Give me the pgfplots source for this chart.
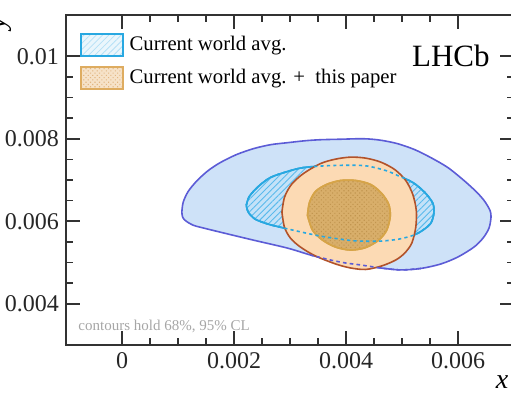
\documentclass[border=0pt]{standalone}
\usepackage{pgfplots}
\pgfplotsset{compat=1.18}
\usepackage{fontspec}
\setmainfont{Liberation Serif}
\usetikzlibrary{patterns,patterns.meta}
\definecolor{outerBlueFill}{RGB}{206,226,248}
\definecolor{outerBlueLine}{RGB}{92,92,214}
\definecolor{cyanLine}{RGB}{40,168,225}
\definecolor{cyanHatch}{RGB}{90,186,236}
\definecolor{cyanFill}{RGB}{196,226,248}
\definecolor{orangeFill}{RGB}{252,218,180}
\definecolor{orangeLine}{RGB}{178,82,42}
\definecolor{innerFill}{RGB}{216,174,106}
\definecolor{innerDots}{RGB}{194,150,80}
\definecolor{innerLine}{RGB}{214,164,72}
\definecolor{legCyanFill}{RGB}{234,246,252}
\definecolor{legOrFill}{RGB}{246,226,200}
\definecolor{legOrLine}{RGB}{222,172,96}
\definecolor{legOrDots}{RGB}{226,182,130}
\definecolor{frame}{RGB}{50,50,50}
\begin{document}
\begin{tikzpicture}
\begin{axis}[
  name=ax,
  scale only axis,
  width=224pt, height=165pt,
  xmin=-0.001, xmax=0.007,
  ymin=0.003, ymax=0.011,
  xtick={0,0.002,0.004,0.006},
  xticklabels={0,0.002,0.004,0.006},
  ytick={0.004,0.006,0.008,0.01},
  yticklabels={0.004,0.006,0.008,0.01},
  scaled ticks=false,
  minor x tick num=3, minor y tick num=3,
  tick align=inside,
  major tick length=7pt, minor tick length=3.5pt,
  axis line style={line width=1pt, frame},
  every tick/.style={line width=0.8pt, frame},
  ticklabel style={font=\fontsize{12}{14}\selectfont, text=black!85},
  legend style={at={(axis description cs:0,1)}, anchor=north west,
    xshift=7pt, yshift=-9pt, draw=none, fill=none, inner sep=0pt,
    font=\fontsize{10.35}{12}\selectfont, row sep=4.5pt,
    nodes={inner sep=0.5pt}},
  legend cell align=left,
]
% outer 95% world average
\addplot[fill=outerBlueFill, draw=outerBlueLine, line width=0.8pt, smooth, tension=0.5, forget plot] coordinates {
(0.001069,0.006224) (0.001092,0.006458) (0.001182,0.006723) (0.001343,0.006988)
(0.001540,0.007229) (0.001755,0.007422) (0.002041,0.007614) (0.002346,0.007759)
(0.002650,0.007855) (0.002954,0.007904) (0.003277,0.007952) (0.003545,0.007976)
(0.003903,0.007988) (0.004315,0.008000) (0.004619,0.007964) (0.004924,0.007879)
(0.005228,0.007735) (0.005515,0.007542) (0.005819,0.007301) (0.006106,0.006988)
(0.006320,0.006723) (0.006464,0.006506) (0.006571,0.006265) (0.006589,0.006096)
(0.006553,0.005831) (0.006446,0.005590) (0.006285,0.005373) (0.005998,0.005133)
(0.005694,0.004964) (0.005336,0.004855) (0.004978,0.004819) (0.004619,0.004867)
(0.004261,0.004940) (0.003993,0.004988) (0.003724,0.005060) (0.003366,0.005181)
(0.002954,0.005349) (0.002346,0.005542) (0.001755,0.005735) (0.001397,0.005855)
(0.001271,0.005904) (0.001146,0.006000) (0.001083,0.006096) (0.001069,0.006224)
};
% inner 68% world average
\addplot[fill=cyanFill, draw=cyanLine, line width=0.8pt, smooth, tension=0.5,
  postaction={pattern={Lines[angle=45,distance=2.2pt,line width=0.45pt]}, pattern color=cyanHatch}, forget plot] coordinates {
(0.002220,0.006386) (0.002274,0.006602) (0.002435,0.006843) (0.002650,0.007060)
(0.002954,0.007205) (0.003241,0.007301) (0.003724,0.007349) (0.004315,0.007349)
(0.004709,0.007229) (0.004924,0.007108) (0.005192,0.006940) (0.005407,0.006699)
(0.005551,0.006434) (0.005568,0.006193) (0.005515,0.005952) (0.005372,0.005783)
(0.005210,0.005663) (0.004942,0.005566) (0.004619,0.005518) (0.004261,0.005518)
(0.004029,0.005542) (0.003545,0.005639) (0.003133,0.005759) (0.002829,0.005855)
(0.002614,0.005928) (0.002381,0.006048) (0.002256,0.006217) (0.002220,0.006386)
};
% outer 95% with this paper
\addplot[fill=orangeFill, draw=orangeLine, line width=0.8pt, smooth, tension=0.5, forget plot] coordinates {
(0.002856,0.006217) (0.002901,0.006578) (0.003026,0.006892) (0.003241,0.007157)
(0.003545,0.007398) (0.003814,0.007506) (0.004082,0.007554) (0.004351,0.007530)
(0.004619,0.007434) (0.004870,0.007253) (0.005067,0.006988) (0.005192,0.006651)
(0.005255,0.006265) (0.005246,0.005855) (0.005175,0.005470) (0.005049,0.005229)
(0.004888,0.005060) (0.004637,0.004916) (0.004351,0.004831) (0.004082,0.004867)
(0.003814,0.004964) (0.003456,0.005157) (0.003187,0.005373) (0.003008,0.005590)
(0.002901,0.005855) (0.002856,0.006217)
};
% inner 68% with this paper
\addplot[fill=innerFill, draw=innerLine, line width=0.8pt, smooth, tension=0.5,
  postaction={pattern={Dots[distance=1.6pt,radius=0.4pt,angle=45]}, pattern color=innerDots}, forget plot] coordinates {
(0.003312,0.006145) (0.003348,0.006458) (0.003456,0.006723) (0.003653,0.006892)
(0.003903,0.006988) (0.004172,0.006988) (0.004440,0.006892) (0.004637,0.006675)
(0.004763,0.006410) (0.004790,0.006120) (0.004727,0.005783) (0.004584,0.005542)
(0.004351,0.005361) (0.004082,0.005301) (0.003814,0.005373) (0.003581,0.005542)
(0.003402,0.005783) (0.003312,0.006145)
};
% dashed overlays of hidden world-average contours
\addplot[draw=cyanLine, line width=0.8pt, smooth, tension=0.5, dash pattern=on 1.6pt off 1.6pt, forget plot] coordinates {
(0.002220,0.006386) (0.002274,0.006602) (0.002435,0.006843) (0.002650,0.007060)
(0.002954,0.007205) (0.003241,0.007301) (0.003724,0.007349) (0.004315,0.007349)
(0.004709,0.007229) (0.004924,0.007108) (0.005192,0.006940) (0.005407,0.006699)
(0.005551,0.006434) (0.005568,0.006193) (0.005515,0.005952) (0.005372,0.005783)
(0.005210,0.005663) (0.004942,0.005566) (0.004619,0.005518) (0.004261,0.005518)
(0.004029,0.005542) (0.003545,0.005639) (0.003133,0.005759) (0.002829,0.005855)
(0.002614,0.005928) (0.002381,0.006048) (0.002256,0.006217) (0.002220,0.006386)
};
\addplot[draw=outerBlueLine, line width=0.8pt, smooth, tension=0.5, dash pattern=on 1.8pt off 1.6pt, forget plot] coordinates {
(0.005336,0.004855) (0.004978,0.004819) (0.004619,0.004867)
(0.004261,0.004940) (0.003993,0.004988) (0.003724,0.005060) (0.003366,0.005181)
};
\addlegendimage{legend image code/.code={\draw[fill=legCyanFill, draw=cyanLine, line width=0.8pt,
  postaction={pattern={Lines[angle=45,distance=2.2pt,line width=0.4pt]}, pattern color=cyanHatch!45}]
  (0pt,-5.5pt) rectangle (21pt,5.5pt); \path (23.5pt,0pt);}}
\addlegendentry{Current world avg.}
\addlegendimage{legend image code/.code={\draw[fill=legOrFill, draw=legOrLine, line width=0.8pt,
  postaction={pattern={Dots[distance=1.6pt,radius=0.4pt,angle=45]}, pattern color=legOrDots}]
  (0pt,-5.5pt) rectangle (21pt,5.5pt); \path (23.5pt,0pt);}}
\addlegendentry{Current world avg. +\ \ this paper}
\node[anchor=base, font=\fontsize{15.5}{18}\selectfont] at (axis description cs:0.859,0.844) {LHCb};
\node[anchor=base west, font=\fontsize{7.5}{9}\selectfont, text=black!35, inner sep=0pt] at (axis description cs:0.027,0.045) {contours hold 68\%, 95\% CL};
\end{axis}
\node[font=\fontsize{14}{16}\selectfont\itshape, inner sep=0pt] at ([xshift=-6pt,yshift=-18.5pt]ax.south east) {x};
\node[rotate=90, font=\fontsize{14}{16}\selectfont\itshape, inner sep=0pt] at ([xshift=-32pt,yshift=-4pt]ax.north west) {y};
\pgfresetboundingbox
\path[use as bounding box] ([xshift=-33pt,yshift=-27pt]ax.south west) rectangle ([xshift=-1.5pt,yshift=7.5pt]ax.north east);
\end{tikzpicture}
\end{document}
